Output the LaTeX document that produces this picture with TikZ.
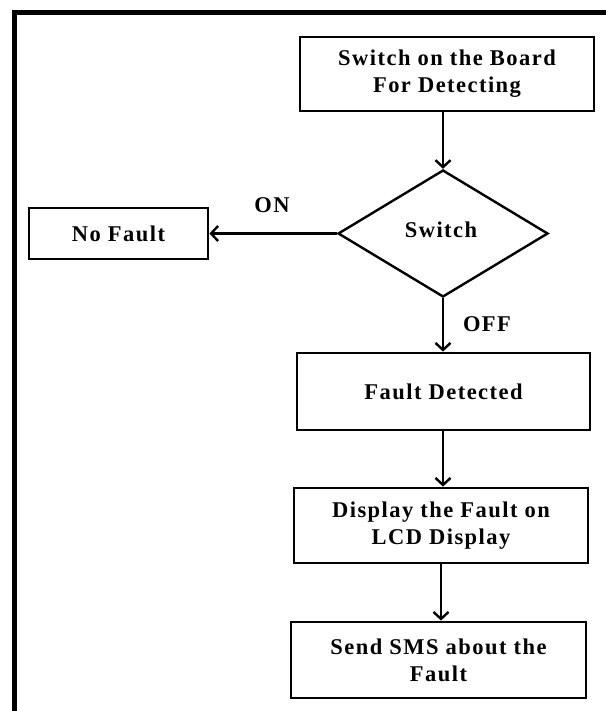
\documentclass[tikz,border=0pt]{standalone}
\usepackage{fontspec}
\setmainfont{Liberation Serif}[LetterSpace=6.5]
\usetikzlibrary{shapes.geometric,arrows.meta}
\tikzset{
  every node/.style={font=\fontsize{22.5}{27}\selectfont\bfseries},
  procbox/.style={draw=black,line width=2.8pt,rectangle,inner sep=0pt,align=center},
  decision/.style={draw=black,line width=2.4pt,diamond,inner sep=0pt,minimum width=210pt,minimum height=127pt,shape aspect=1.65},
  arr/.style={draw=black,line width=2.6pt,-{Straight Barb[length=7pt,width=15pt,line width=2.4pt]}},
  lbl/.style={inner sep=0pt},
  frame/.style={line width=5pt,line join=miter}
}
\begin{document}
\begin{tikzpicture}[x=1pt,y=-1pt]
\useasboundingbox (0,0) rectangle (605,711);
\draw[frame] (14.5,720) -- (14.5,13) -- (615,13);
\node[procbox,minimum width=294pt,minimum height=74pt] (top) at (447,74) {Switch on the Board\\For Detecting};
\node[decision] (sw) at (443,233.5) {};
\node[lbl] (swt) at (441,230) {Switch};
\node[procbox,minimum width=179pt,minimum height=51pt] (nf) at (118.5,233.5) {No Fault};
\node[procbox,minimum width=293pt,minimum height=77pt] (fd) at (443.5,391.5) {Fault Detected};
\node[procbox,minimum width=294pt,minimum height=75pt] (disp) at (441,525.5) {Display the Fault on\\LCD Display};
\node[procbox,minimum width=295pt,minimum height=76pt] (sms) at (438.5,660) {Send SMS about the\\Fault};
\node[lbl] (on) at (272,205) {ON};
\node[lbl] (off) at (487,324) {OFF};
\draw[arr] (top.south -| sw.north) -- (sw.north);
\draw[arr] (sw.west) -- (nf.east |- sw.west);
\draw[arr] (sw.south) -- (sw.south |- fd.north);
\draw[arr] (fd.south -| sw.south) -- (disp.north -| sw.south);
\draw[arr] (disp.south -| 441,0) -- (sms.north -| 441,0);
\end{tikzpicture}
\end{document}
